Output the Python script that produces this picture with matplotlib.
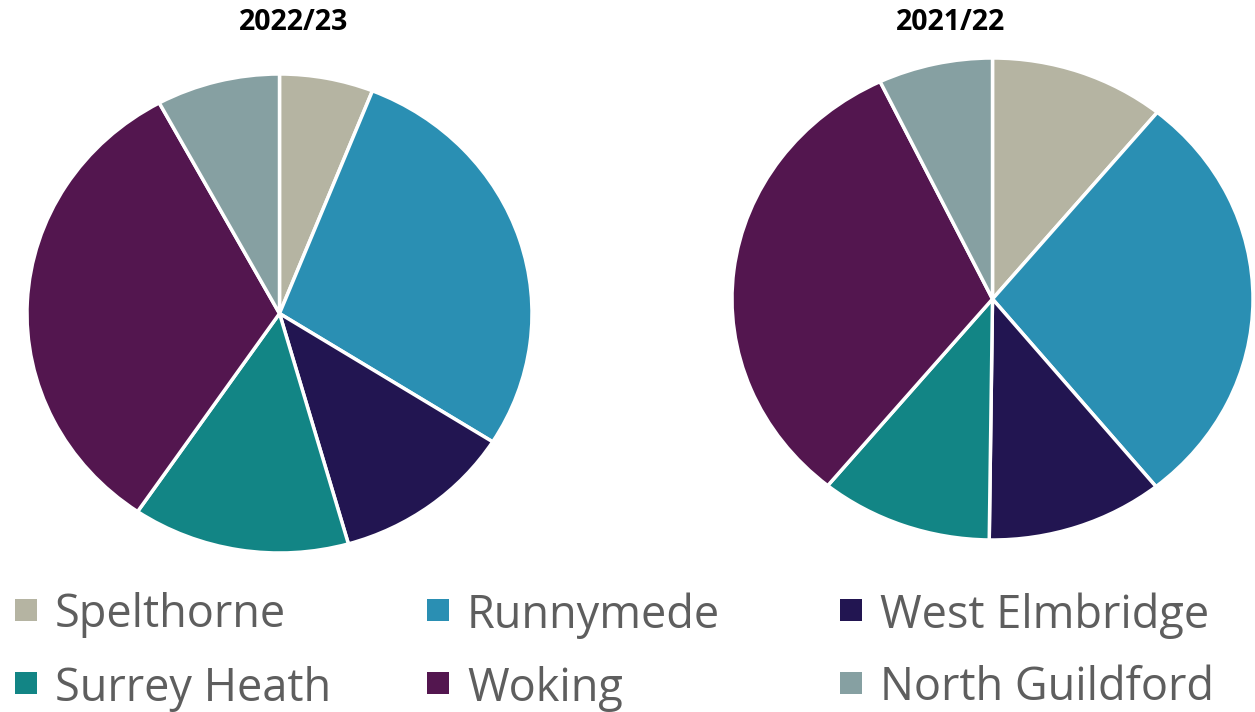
import matplotlib.pyplot as plt
from matplotlib.patches import Rectangle

# Dados (percentagens)
areas = ["Spelthorne", "Runnymede", "West Elmbridge", "Surrey Heath", "Woking", "North Guildford"]
cores = ["#B5B4A2", "#2A8FB3", "#221551", "#128585", "#53164F", "#86A0A2"]
valores_2223 = [6.0, 28.0, 11.6, 13.9, 32.6, 7.9]
valores_2122 = [10.9, 28.3, 11.0, 10.7, 32.0, 7.1]
titulos = ["2022/23", "2021/22"]

W, H = 1255, 712
fig = plt.figure(figsize=(W / 100, H / 100), dpi=100)

# caixas das pies em pixeis (x0, y0_topo, x1, y1_baixo)
caixas = [(27, 74, 532, 553), (732, 58, 1253, 540)]
centros_titulo = [294, 951]

for valores, caixa, titulo, xt in zip([valores_2223, valores_2122], caixas, titulos, centros_titulo):
    x0, y0, x1, y1 = caixa
    ax = fig.add_axes([x0 / W, 1 - y1 / H, (x1 - x0) / W, (y1 - y0) / H])
    ax.pie(valores, colors=cores, startangle=90, counterclock=False,
           wedgeprops=dict(edgecolor="white", linewidth=2.5))
    ax.set_aspect("auto")
    ax.set_xlim(-1, 1)
    ax.set_ylim(-1, 1)
    ax.axis("off")
    fig.text(xt / W, 1 - 22 / H, titulo, ha="center", va="center",
             fontsize=20.5, fontweight="bold", family="Open Sans", color="black")

# Legenda manual (3 colunas x 2 linhas)
col_x = [15, 427, 840]
linhas_y = [610, 683]
for i, (nome, cor) in enumerate(zip(areas, cores)):
    c = i % 3
    r = i // 3
    xm = col_x[c]
    ym = linhas_y[r]
    fig.patches.append(Rectangle((xm / W, 1 - (ym + 11) / H), 22 / W, 22 / H,
                                 transform=fig.transFigure, facecolor=cor, edgecolor="none"))
    fig.text((xm + 40) / W, 1 - ym / H, nome, ha="left", va="center_baseline",
             fontsize=32.5, family="Open Sans", color="#5E5E5E")

fig.savefig("out.png", dpi=100)
